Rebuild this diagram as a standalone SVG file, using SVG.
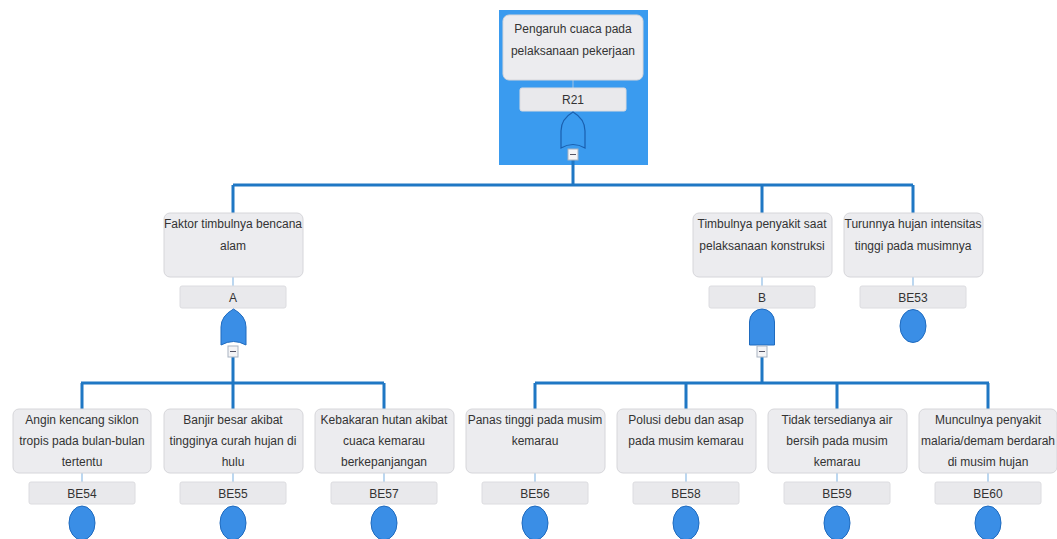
<svg xmlns="http://www.w3.org/2000/svg" width="1057" height="539" viewBox="0 0 1057 539">
<style>
.box{fill:#ececef;stroke:#d6d6da;stroke-width:1}
.lab{fill:#e9e9ec;stroke:#dcdce0;stroke-width:1}
.t{font-family:"Liberation Sans",Arial,sans-serif;font-size:12px;fill:#333;text-anchor:middle}
.gate{fill:#3a8ee6;stroke:#1f6bbf;stroke-width:1}
.ev{fill:#3a8ee6;stroke:#1f6bbf;stroke-width:1}
.con{fill:none;stroke:#1f77c4;stroke-width:3}
.thin{fill:none;stroke:#8fbde6;stroke-width:1.2}
.mb{fill:#f4f4f6;stroke:#a9b4c2;stroke-width:1}
.mm{stroke:#556;stroke-width:1}
</style>
<rect x="499" y="10" width="149" height="155" fill="#3a9bef"/>
<g id="connectors">
<path class="con" d="M573,160 V185 M233,185 H913 M233,185 V213 M762,185 V213 M913,185 V213"/>
<path class="con" d="M233,357 V383 M81,383 H384 M82,383 V409 M233,383 V409 M384,383 V409"/>
<path class="con" d="M762,357 V383 M535,383 H989 M535,383 V409 M686,383 V409 M837,383 V409 M988,383 V409"/>
<path class="thin" d="M573,80 V88 M233,277 V286 M762,277 V286 M913,277 V286 M82,473 V482 M233,473 V482 M384,473 V482 M535,473 V482 M686,473 V482 M837,473 V482 M988,473 V482"/>
</g>
<g id="R21">
<rect class="box" x="503" y="15" width="140" height="65" rx="6"/>
<text class="t" x="573" y="33">Pengaruh cuaca pada</text>
<text class="t" x="573" y="55">pelaksanaan pekerjaan</text>
<rect class="lab" x="520" y="88" width="106" height="23" rx="2"/>
<text class="t" x="573" y="104">R21</text>
<path d="M561,148 V131 Q561,119 573,112 Q585,119 585,131 V148 Q573,141 561,148 Z" fill="#3a9bef" stroke="#1a5fae" stroke-width="1.2"/>
<rect class="mb" x="568" y="149" width="10" height="11"/>
<line class="mm" x1="570" y1="154.5" x2="576" y2="154.5"/>
</g>
<g id="A">
<rect class="box" x="164" y="213" width="139" height="64" rx="6"/>
<text class="t" x="233" y="228">Faktor timbulnya bencana</text>
<text class="t" x="233" y="250">alam</text>
<rect class="lab" x="180" y="286" width="106" height="22" rx="2"/>
<text class="t" x="233" y="302">A</text>
<path class="gate" d="M221,345 V327 Q221,316 233.5,309 Q246,316 246,327 V345 Q233.5,338 221,345 Z"/>
<rect class="mb" x="228" y="346" width="10" height="11"/>
<line class="mm" x1="230" y1="351.5" x2="236" y2="351.5"/>
</g>
<g id="B">
<rect class="box" x="693" y="213" width="139" height="64" rx="6"/>
<text class="t" x="762" y="228">Timbulnya penyakit saat</text>
<text class="t" x="762" y="250">pelaksanaan konstruksi</text>
<rect class="lab" x="709" y="286" width="106" height="22" rx="2"/>
<text class="t" x="762" y="302">B</text>
<path class="gate" d="M749.5,345 V322 A12.5,13 0 0 1 774.5,322 V345 Z"/>
<rect class="mb" x="757" y="346" width="10" height="11"/>
<line class="mm" x1="759" y1="351.5" x2="765" y2="351.5"/>
</g>
<g id="BE53">
<rect class="box" x="844" y="213" width="139" height="64" rx="6"/>
<text class="t" x="913" y="228">Turunnya hujan intensitas</text>
<text class="t" x="913" y="250">tinggi pada musimnya</text>
<rect class="lab" x="860" y="286" width="106" height="22" rx="2"/>
<text class="t" x="913" y="302">BE53</text>
<ellipse class="ev" cx="913" cy="326" rx="13" ry="16.5"/>
</g>
<g id="BE54">
<rect class="box" x="13" y="409" width="138" height="64" rx="6"/>
<text class="t" x="82" y="424">Angin kencang siklon</text>
<text class="t" x="82" y="445">tropis pada bulan-bulan</text>
<text class="t" x="82" y="466">tertentu</text>
<rect class="lab" x="29" y="482" width="106" height="22" rx="2"/>
<text class="t" x="82" y="498">BE54</text>
<ellipse class="ev" cx="82" cy="523" rx="13" ry="17"/>
</g>
<g id="BE55">
<rect class="box" x="164" y="409" width="139" height="64" rx="6"/>
<text class="t" x="233" y="424">Banjir besar akibat</text>
<text class="t" x="233" y="445">tingginya curah hujan di</text>
<text class="t" x="233" y="466">hulu</text>
<rect class="lab" x="180" y="482" width="106" height="22" rx="2"/>
<text class="t" x="233" y="498">BE55</text>
<ellipse class="ev" cx="233" cy="523" rx="13" ry="17"/>
</g>
<g id="BE57">
<rect class="box" x="315" y="409" width="139" height="64" rx="6"/>
<text class="t" x="384" y="424">Kebakaran hutan akibat</text>
<text class="t" x="384" y="445">cuaca kemarau</text>
<text class="t" x="384" y="466">berkepanjangan</text>
<rect class="lab" x="331" y="482" width="106" height="22" rx="2"/>
<text class="t" x="384" y="498">BE57</text>
<ellipse class="ev" cx="384" cy="523" rx="13" ry="17"/>
</g>
<g id="BE56">
<rect class="box" x="466" y="409" width="139" height="64" rx="6"/>
<text class="t" x="535" y="424">Panas tinggi pada musim</text>
<text class="t" x="535" y="445">kemarau</text>
<rect class="lab" x="482" y="482" width="106" height="22" rx="2"/>
<text class="t" x="535" y="498">BE56</text>
<ellipse class="ev" cx="535" cy="523" rx="13" ry="17"/>
</g>
<g id="BE58">
<rect class="box" x="617" y="409" width="139" height="64" rx="6"/>
<text class="t" x="686" y="424">Polusi debu dan asap</text>
<text class="t" x="686" y="445">pada musim kemarau</text>
<rect class="lab" x="633" y="482" width="106" height="22" rx="2"/>
<text class="t" x="686" y="498">BE58</text>
<ellipse class="ev" cx="686" cy="523" rx="13" ry="17"/>
</g>
<g id="BE59">
<rect class="box" x="768" y="409" width="139" height="64" rx="6"/>
<text class="t" x="837" y="424">Tidak tersedianya air</text>
<text class="t" x="837" y="445">bersih pada musim</text>
<text class="t" x="837" y="466">kemarau</text>
<rect class="lab" x="784" y="482" width="106" height="22" rx="2"/>
<text class="t" x="837" y="498">BE59</text>
<ellipse class="ev" cx="837" cy="523" rx="13" ry="17"/>
</g>
<g id="BE60">
<rect class="box" x="919" y="409" width="138" height="64" rx="6"/>
<text class="t" x="988" y="424">Munculnya penyakit</text>
<text class="t" x="988" y="445">malaria/demam berdarah</text>
<text class="t" x="988" y="466">di musim hujan</text>
<rect class="lab" x="935" y="482" width="106" height="22" rx="2"/>
<text class="t" x="988" y="498">BE60</text>
<ellipse class="ev" cx="988" cy="523" rx="13" ry="17"/>
</g>
</svg>
